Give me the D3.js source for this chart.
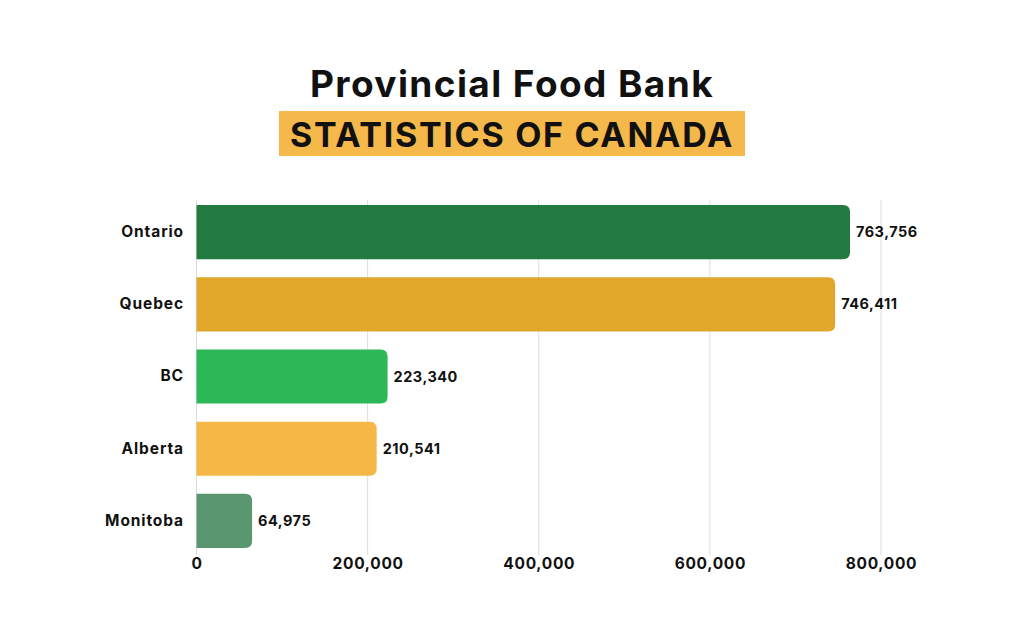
<!DOCTYPE html>
<html>
<head>
<meta charset="utf-8">
<script src="https://cdn.jsdelivr.net/npm/d3@7"></script>
<style>
  html, body { margin: 0; padding: 0; background: #fff; }
  #chart { width: 1024px; height: 633px; }
  text { font-family: 'Inter', 'Open Sans', sans-serif; font-weight: 700; fill: #111; }
</style>
</head>
<body>
<div id="chart"></div>
<script>
const provinces = ['Ontario', 'Quebec', 'BC', 'Alberta', 'Monitoba'];
const visits = [763756, 746411, 223340, 210541, 64975];
const barColors = ['#237a41', '#e0a72a', '#2cb857', '#f5b847', '#5a9670'];
const tickValues = [0, 200000, 400000, 600000, 800000];

const data = provinces.map((p, i) => ({ province: p, value: visits[i], color: barColors[i] }));

const W = 1024, H = 633;
const svg = d3.select('#chart').append('svg')
    .attr('width', W)
    .attr('height', H);

// Title
svg.append('text')
    .attr('x', 512)
    .attr('y', 97)
    .attr('text-anchor', 'middle')
    .style('font-size', '37px')
    .style('letter-spacing', '1.4px')
    .text('Provincial Food Bank');

svg.append('rect')
    .attr('x', 279)
    .attr('y', 111)
    .attr('width', 466)
    .attr('height', 45)
    .attr('fill', '#f5b84a');

svg.append('text')
    .attr('x', 512)
    .attr('y', 147)
    .attr('text-anchor', 'middle')
    .style('font-size', '34px')
    .style('letter-spacing', '1.7px')
    .text('STATISTICS OF CANADA');

// Scales
const x = d3.scaleLinear()
    .domain([0, 800000])
    .range([196.5, 881]);

const y = d3.scaleBand()
    .domain(provinces)
    .range([196, 557])
    .paddingInner(0.25)
    .paddingOuter(0.125);

// Grid lines
svg.append('g')
    .selectAll('line')
    .data(tickValues)
    .join('line')
    .attr('x1', d => x(d))
    .attr('x2', d => x(d))
    .attr('y1', 200)
    .attr('y2', 555)
    .attr('stroke', '#dcdcdc')
    .attr('stroke-width', 1);

// Bars with rounded right end
const r = 7;
function barPath(d) {
    const x0 = x(0), x1 = x(d.value), y0 = y(d.province), h = y.bandwidth();
    const rr = Math.min(r, (x1 - x0) / 2);
    return `M${x0},${y0}H${x1 - rr}Q${x1},${y0} ${x1},${y0 + rr}V${y0 + h - rr}Q${x1},${y0 + h} ${x1 - rr},${y0 + h}H${x0}Z`;
}

svg.append('g')
    .selectAll('path')
    .data(data)
    .join('path')
    .attr('d', barPath)
    .attr('fill', d => d.color);

// Value labels
const fmt = d3.format(',');
svg.append('g')
    .selectAll('text')
    .data(data)
    .join('text')
    .attr('x', d => x(d.value) + 6)
    .attr('y', d => y(d.province) + y.bandwidth() / 2)
    .attr('dy', '0.35em')
    .style('font-size', '14.5px')
    .style('letter-spacing', '0.5px')
    .text(d => fmt(d.value));

// Y axis (category labels)
const yAxis = svg.append('g')
    .attr('transform', 'translate(184,0)')
    .call(d3.axisLeft(y).tickSize(0).tickPadding(0));
yAxis.select('.domain').remove();
yAxis.selectAll('text')
    .attr('fill', '#111')
    .style('font-family', "'Inter', 'Open Sans', sans-serif")
    .style('font-weight', 700)
    .style('font-size', '15.5px')
    .style('letter-spacing', '0.9px');

// X axis
const xAxis = svg.append('g')
    .attr('transform', 'translate(0,548)')
    .call(d3.axisBottom(x).tickValues(tickValues).tickFormat(fmt).tickSize(0).tickPadding(10));
xAxis.select('.domain').remove();
xAxis.selectAll('text')
    .attr('fill', '#111')
    .style('font-family', "'Inter', 'Open Sans', sans-serif")
    .style('font-weight', 700)
    .style('font-size', '15.5px')
    .style('letter-spacing', '0.7px');
</script>
</body>
</html>
